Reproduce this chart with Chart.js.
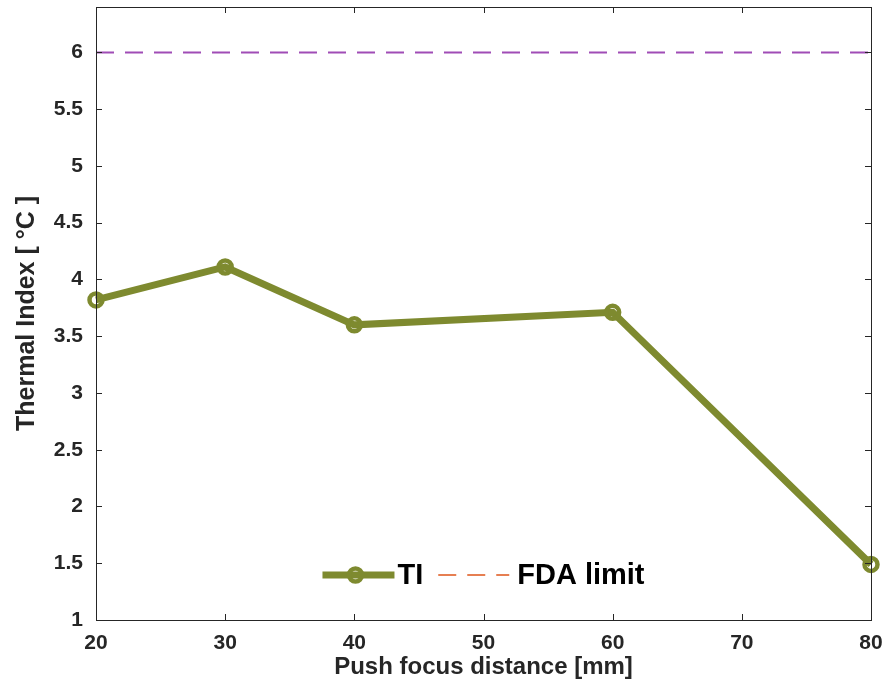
<!DOCTYPE html>
<html>
<head>
<meta charset="utf-8">
<script src="https://cdn.jsdelivr.net/npm/chart.js@4.4.1/dist/chart.umd.min.js"></script>
<style>
html,body{margin:0;padding:0;background:#ffffff;}
#wrap{width:888px;height:692px;}
</style>
</head>
<body>
<div id="wrap"><canvas id="c" width="888" height="692"></canvas></div>
<script>
// ---- data ----
const distances = [20, 30, 40, 60, 80];
const thermalIndex = [3.82, 4.11, 3.60, 3.71, 1.49];
const fdaLimitX = [20, 80];
const fdaLimitY = [6, 6];
const xTicks = [20, 30, 40, 50, 60, 70, 80];
const yTicks = [1, 1.5, 2, 2.5, 3, 3.5, 4, 4.5, 5, 5.5, 6];
const seriesNames = ['TI', 'FDA limit'];
const xTitle = 'Push focus distance [mm]';
const yTitle = 'Thermal Index [ °C ]';

// ---- styles ----
const FONT = "'Liberation Sans', Arial, Helvetica, sans-serif";
const OLIVE = '#7e8a2f';
const PURPLE = '#a04cb6';
const ORANGE = '#e67f52';
const AXIS = '#262626';

const tiPoints = distances.map((d, i) => ({ x: d, y: thermalIndex[i] }));
const fdaPoints = fdaLimitX.map((d, i) => ({ x: d, y: fdaLimitY[i] }));
const noPad = () => ({ left: 0, top: 0, right: 0, bottom: 0 });

const frameTicks = {
  id: 'frameTicks',
  afterDatasetsDraw(chart) {
    const { ctx, chartArea: a, scales } = chart;
    const L = 6;
    ctx.save();
    ctx.strokeStyle = AXIS;
    ctx.lineWidth = 1;
    ctx.beginPath();
    scales.x.ticks.forEach(t => {
      const px = Math.round(scales.x.getPixelForValue(t.value)) + 0.5;
      ctx.moveTo(px, a.bottom); ctx.lineTo(px, a.bottom - L);
      ctx.moveTo(px, a.top); ctx.lineTo(px, a.top + L);
    });
    scales.y.ticks.forEach(t => {
      const py = Math.round(scales.y.getPixelForValue(t.value)) + 0.5;
      ctx.moveTo(a.left, py); ctx.lineTo(a.left + L, py);
      ctx.moveTo(a.right, py); ctx.lineTo(a.right - L, py);
    });
    ctx.stroke();
    ctx.strokeRect(Math.round(a.left) + 0.5, Math.round(a.top) + 0.5,
                   Math.round(a.right - a.left), Math.round(a.bottom - a.top));
    ctx.restore();
  }
};

const innerLegend = {
  id: 'innerLegend',
  afterDraw(chart) {
    const { ctx, chartArea: a } = chart;
    ctx.save();
    ctx.font = "bold 29px " + FONT;
    ctx.textBaseline = 'middle';
    ctx.fillStyle = '#000';
    const wTI = ctx.measureText(seriesNames[0]).width;
    const wFDA = ctx.measureText(seriesNames[1]).width;
    const lineLen = 72, dashLen = 71;
    const total = lineLen + 3 + wTI + 15 + dashLen + 8 + wFDA;
    let x = (a.left + a.right) / 2 - total / 2;
    const y = a.bottom - 45;
    // TI sample
    ctx.strokeStyle = OLIVE;
    ctx.lineWidth = 7;
    ctx.beginPath(); ctx.moveTo(x, y); ctx.lineTo(x + lineLen, y); ctx.stroke();
    ctx.lineWidth = 4.5;
    ctx.beginPath(); ctx.arc(x + lineLen / 2 - 3, y, 6.5, 0, Math.PI * 2); ctx.stroke();
    x += lineLen + 3;
    ctx.fillText(seriesNames[0], x, y + 1);
    x += wTI + 15;
    // FDA sample
    ctx.strokeStyle = ORANGE;
    ctx.lineWidth = 2;
    ctx.setLineDash([18, 11]);
    ctx.beginPath(); ctx.moveTo(x, y); ctx.lineTo(x + dashLen, y); ctx.stroke();
    ctx.setLineDash([]);
    x += dashLen + 8;
    ctx.fillText(seriesNames[1], x, y + 1);
    ctx.restore();
  }
};

const tickFont = { family: FONT, size: 21, weight: 'bold' };

new Chart(document.getElementById('c'), {
  type: 'line',
  data: {
    datasets: [
      {
        label: seriesNames[0],
        data: tiPoints,
        borderColor: OLIVE,
        borderWidth: 7,
        pointRadius: 6.5,
        pointBorderWidth: 4.5,
        pointBorderColor: OLIVE,
        pointBackgroundColor: 'rgba(0,0,0,0)',
        pointStyle: 'circle',
        tension: 0,
        clip: false
      },
      {
        label: seriesNames[1],
        data: fdaPoints,
        borderColor: PURPLE,
        borderWidth: 2,
        borderDash: [18, 11],
        pointRadius: 0,
        tension: 0
      }
    ]
  },
  options: {
    responsive: false,
    animation: false,
    events: [],
    layout: { autoPadding: false, padding: { top: 7, right: 17, left: 0, bottom: 0 } },
    plugins: { legend: { display: false }, tooltip: { enabled: false } },
    scales: {
      x: {
        type: 'linear',
        min: 20, max: 80,
        afterBuildTicks(s) { s.ticks = xTicks.map(v => ({ value: v })); },
        afterFit(s) { s.height = 72; s.paddingLeft = 0; s.paddingRight = 0; s.getPadding = noPad; },
        ticks: { font: tickFont, color: AXIS, padding: 11, maxRotation: 0, autoSkip: false,
                 callback: v => String(v) },
        grid: { display: false, drawTicks: false },
        border: { display: false },
        title: { display: true, text: xTitle, color: AXIS,
                 font: { family: FONT, size: 24, weight: 'bold' },
                 padding: { top: 0, bottom: 10 } }
      },
      y: {
        type: 'linear',
        min: 1, max: 6.4,
        afterBuildTicks(s) { s.ticks = yTicks.map(v => ({ value: v })); },
        afterFit(s) { s.width = 96; s.paddingTop = 0; s.paddingBottom = 0; s.getPadding = noPad; },
        ticks: { font: tickFont, color: AXIS, padding: 13, autoSkip: false,
                 callback: v => String(v) },
        grid: { display: false, drawTicks: false },
        border: { display: false },
        title: { display: true, text: yTitle, color: AXIS,
                 font: { family: FONT, size: 25, weight: 'bold' },
                 padding: { top: 12, bottom: 0 } }
      }
    }
  },
  plugins: [frameTicks, innerLegend]
});
</script>
</body>
</html>
